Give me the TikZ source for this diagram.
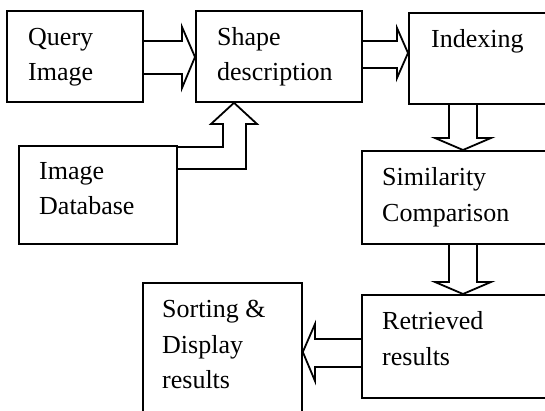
\documentclass[tikz,border=0pt]{standalone}
\usepackage{fontspec}
\setmainfont{Liberation Serif}
\begin{document}
\begin{tikzpicture}[x=1pt,y=-1pt,
  box/.style={draw, line width=1.8pt, anchor=north west, inner sep=0, minimum width=#1},
  lbl/.style={anchor=base west, inner sep=0, font=\fontsize{26}{35}\selectfont},
  barrow/.style={draw, line width=1.8pt, line join=miter}]
\useasboundingbox (0,0) rectangle (545,410);
\clip (0,0) rectangle (545,410);
% boxes
\node[box=136pt, minimum height=91pt] (q) at (6,10) {};
\node[box=166pt, minimum height=91pt] (s) at (195,10) {};
\node[box=170pt, minimum height=91pt] (ix) at (408,12) {};
\node[box=158pt, minimum height=98pt] (db) at (18,145) {};
\node[box=200pt, minimum height=93pt] (sim) at (361,150) {};
\node[box=200pt, minimum height=103pt] (ret) at (361,294) {};
\node[box=159pt, minimum height=160pt] (sort) at (142,282) {};
% labels
\node[lbl] (q1) at (28,45) {Query};
\node[lbl] (q2) at (28,80) {Image};
\node[lbl] (s1) at (217,45) {Shape};
\node[lbl] (s2) at (217,80) {description};
\node[lbl] (ix1) at (431,47) {Indexing};
\node[lbl] (db1) at (39,179) {Image};
\node[lbl] (db2) at (39,214) {Database};
\node[lbl] (sim1) at (382,185) {Similarity};
\node[lbl] (sim2) at (382,221) {Comparison};
\node[lbl] (ret1) at (382,329) {Retrieved};
\node[lbl] (ret2) at (382,365) {results};
\node[lbl] (so1) at (162,317) {Sorting \&};
\node[lbl] (so2) at (162,353) {Display};
\node[lbl] (so3) at (162,388) {results};
% block arrows
\draw[barrow] (q.east |- 0,41) -- (182,41) -- (182,27) -- (s.west |- 0,57)
  -- (182,88) -- (182,74) -- (q.east |- 0,74);
\draw[barrow] (s.east |- 0,41) -- (397,41) -- (397,28) -- (ix.west |- 0,53)
  -- (397,78) -- (397,68) -- (s.east |- 0,68);
\draw[barrow] (449,0 |- ix.south) -- (449,138) -- (435,138) -- (463,0 |- sim.north)
  -- (491,138) -- (477,138) -- (477,0 |- ix.south);
\draw[barrow] (449,0 |- sim.south) -- (449,282) -- (435,282) -- (463,0 |- ret.north)
  -- (491,282) -- (477,282) -- (477,0 |- sim.south);
\draw[barrow] (ret.west |- 0,339) -- (315,339) -- (315,324) -- (sort.east |- 0,352)
  -- (315,381) -- (315,367) -- (ret.west |- 0,367);
\draw[barrow] (db.east |- 0,147) -- (223,147) -- (223,124) -- (211,124) -- (234,0 |- s.south)
  -- (257,124) -- (246,124) -- (246,169) -- (db.east |- 0,169);
\end{tikzpicture}
\end{document}
